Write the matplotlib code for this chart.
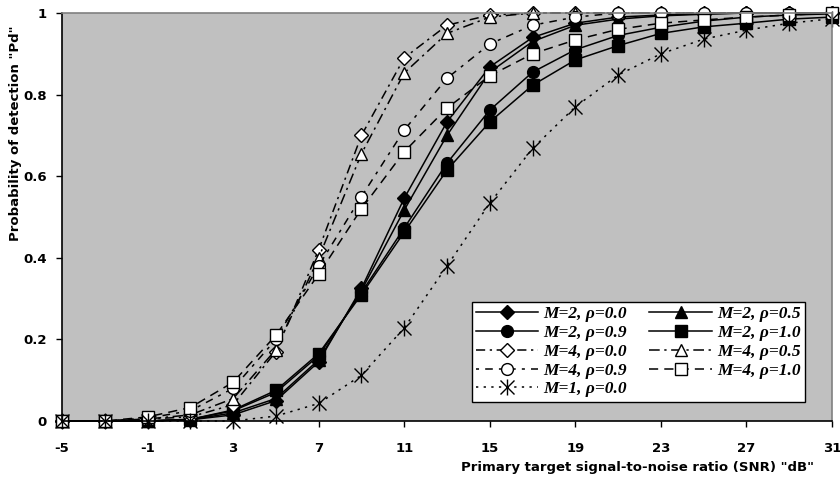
import numpy as np
import matplotlib
matplotlib.use("Agg")
from matplotlib import pyplot as plt
from matplotlib.ticker import FuncFormatter

plt.rcParams['axes.unicode_minus'] = False

snr = [-5, -3, -1, 1, 3, 5, 7, 9, 11, 13, 15, 17, 19, 21, 23, 25, 27, 29, 31]

## M=2 curves (filled markers)
m2_r00 = [0, 0, 0, 0.003, 0.015, 0.05, 0.145, 0.325, 0.546, 0.733, 0.868, 0.94, 0.975, 0.99, 0.995, 0.998, 1.0, 1.0, 1.0]
m2_r05 = [0, 0, 0, 0.003, 0.02, 0.055, 0.15, 0.32, 0.517, 0.70, 0.855, 0.93, 0.97, 0.985, 0.993, 0.997, 1.0, 1.0, 1.0]
m2_r09 = [0, 0, 0, 0.004, 0.025, 0.07, 0.16, 0.315, 0.473, 0.632, 0.762, 0.855, 0.91, 0.945, 0.965, 0.98, 0.99, 0.995, 0.998]
m2_r10 = [0, 0, 0, 0.004, 0.027, 0.075, 0.165, 0.31, 0.463, 0.615, 0.733, 0.823, 0.885, 0.92, 0.95, 0.966, 0.975, 0.985, 0.99]
## M=4 curves (open markers)
m4_r00 = [0, 0, 0.005, 0.01, 0.04, 0.17, 0.42, 0.70, 0.89, 0.97, 0.995, 1.0, 1.0, 1.0, 1.0, 1.0, 1.0, 1.0, 1.0]
m4_r05 = [0, 0, 0.005, 0.015, 0.055, 0.175, 0.40, 0.655, 0.853, 0.95, 0.99, 1.0, 1.0, 1.0, 1.0, 1.0, 1.0, 1.0, 1.0]
m4_r09 = [0, 0, 0.007, 0.025, 0.08, 0.20, 0.38, 0.55, 0.713, 0.84, 0.924, 0.97, 0.99, 1.0, 1.0, 1.0, 1.0, 1.0, 1.0]
m4_r10 = [0, 0, 0.01, 0.033, 0.095, 0.21, 0.36, 0.52, 0.66, 0.767, 0.846, 0.90, 0.934, 0.96, 0.975, 0.983, 0.99, 0.995, 1.0]
## M=1
m1_r00 = [0, 0, 0, 0, 0, 0.012, 0.043, 0.112, 0.228, 0.38, 0.534, 0.668, 0.77, 0.848, 0.90, 0.936, 0.958, 0.975, 0.986]

fig = plt.figure(figsize=(8.4, 4.8), dpi=100)
ax = fig.add_axes([62/840, 59/480, 770/840, 408/480])
ax.set_facecolor('#c0c0c0')

ms = 8.5
def curve(y, mk, fill, ls, label, size=ms):
    line, = ax.plot(snr, y, linestyle=ls, color='black', linewidth=1.1,
                    marker=mk, markersize=size, markerfacecolor=fill,
                    markeredgecolor='black', markeredgewidth=1.0, label=label, clip_on=False)
    return line

hs = []
hs.append(curve(m2_r00, 'D', 'black', '-', 'M=2, ρ=0.0', 7.5))
hs.append(curve(m2_r05, '^', 'black', '-', 'M=2, ρ=0.5'))
hs.append(curve(m2_r09, 'o', 'black', '-', 'M=2, ρ=0.9'))
hs.append(curve(m2_r10, 's', 'black', '-', 'M=2, ρ=1.0'))
hs.append(curve(m4_r00, 'D', 'white', (0, (6, 3, 1.5, 3)), 'M=4, ρ=0.0', 7.5))
hs.append(curve(m4_r05, '^', 'white', (0, (7, 3, 1.5, 3)), 'M=4, ρ=0.5'))
hs.append(curve(m4_r09, 'o', 'white', (0, (2, 4, 5, 4)), 'M=4, ρ=0.9'))
hs.append(curve(m4_r10, 's', 'white', (0, (6, 4)), 'M=4, ρ=1.0'))
hx = curve(m1_r00, 'x', 'black', (0, (1.5, 3.5)), 'M=1, ρ=0.0', 10)
# asterisk: add a vertical bar on the x markers
hbar, = ax.plot(snr, m1_r00, linestyle='none', marker='|', markersize=11,
                color='black', markeredgewidth=1.0, clip_on=False)
hs.append((hx, hbar))

ax.set_xlim(-5, 31)
ax.set_ylim(0, 1)
ax.set_xticks(np.arange(-5, 32, 4))
ax.set_yticks(np.arange(0, 1.01, 0.2))
ax.yaxis.set_major_formatter(FuncFormatter(lambda v, p: '%g' % round(v, 1)))

for s in ['top', 'right']:
    ax.spines[s].set_color('#808080')
    ax.spines[s].set_linewidth(1.2)
for s in ['left', 'bottom']:
    ax.spines[s].set_color('black')
    ax.spines[s].set_linewidth(1.2)

ax.tick_params(direction='out', length=4, width=1)
ax.tick_params(axis='x', pad=11)
ax.tick_params(axis='y', pad=7)
for lab in ax.get_xticklabels() + ax.get_yticklabels():
    lab.set_fontfamily('DejaVu Sans')
    lab.set_fontweight('bold')
    lab.set_fontsize(9.5)

ax.set_xlabel('Primary target signal-to-noise ratio (SNR) "dB"', fontfamily='DejaVu Sans',
              fontweight='bold', fontsize=9.5)
ax.xaxis.set_label_coords(0.748, -0.098)
ax.set_ylabel('Probability of detection "Pd"', fontfamily='DejaVu Sans',
              fontweight='bold', fontsize=9.5)
ax.yaxis.set_label_coords(-0.052, 0.705)

labels = [h.get_label() for h in hs[:8]] + ['M=1, ρ=0.0']
order = [0, 2, 4, 6, 8, 1, 3, 5, 7]
leg = ax.legend([hs[i] for i in order], [labels[i] for i in order], ncol=2,
                loc='lower left', bbox_to_anchor=(0.532, 0.047, 0.433, 0.245), mode='expand',
                frameon=True, fancybox=False, edgecolor='black', framealpha=1,
                prop={'family': 'Liberation Serif', 'style': 'italic', 'weight': 'bold', 'size': 12.5},
                handlelength=3.6, handletextpad=0.3, labelspacing=0.15, columnspacing=1.0,
                borderpad=0.25, borderaxespad=0)
leg.get_frame().set_linewidth(1.0)

fig.savefig('out.png', dpi=100)
